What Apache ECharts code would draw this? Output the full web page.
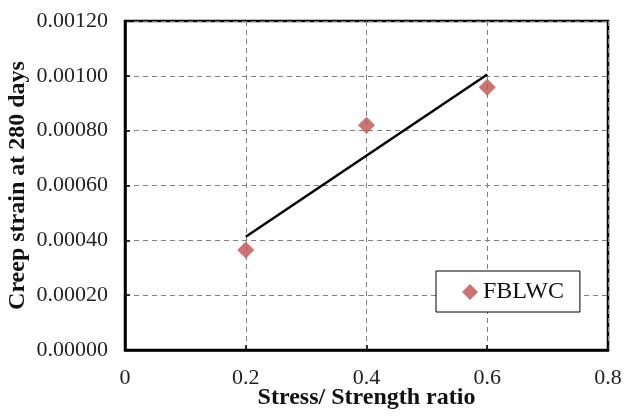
<!DOCTYPE html>
<html>
<head>
<meta charset="utf-8">
<script src="https://cdn.jsdelivr.net/npm/echarts@6/dist/echarts.min.js"></script>
<style>
  html, body { margin: 0; padding: 0; background: #fff; }
  #chart { width: 627px; height: 418px; }
</style>
</head>
<body>
<div id="chart"></div>
<script>
// stress/strength ratio and measured creep strain
const ratios = [0.2, 0.4, 0.6]
const creepStrain = [0.000365, 0.00082, 0.000958]
// linear trend line end points
const trendX = [0.2, 0.6]
const trendY = [0.000413, 0.001005]

const serif = '"Liberation Serif", "DejaVu Serif", serif'

const chart = echarts.init(document.getElementById('chart'))

const gridLine = { show: true, lineStyle: { color: '#808080', type: [5, 4], width: 1 } }

chart.setOption({
  animation: false,
  grid: {
    left: 125, right: 19, top: 21, bottom: 68,
    outerBoundsMode: 'none',
    containLabel: false,
    show: true, borderColor: '#000', borderWidth: 2.5, backgroundColor: 'transparent'
  },
  legend: {
    data: ['FBLWC'],
    left: 436, top: 271,
    padding: [9, 16, 8, 26],
    backgroundColor: '#fff',
    borderColor: '#000',
    borderWidth: 1,
    borderRadius: 0,
    itemWidth: 16, itemHeight: 16,
    textStyle: { fontFamily: serif, fontSize: 24, color: '#111' }
  },
  xAxis: {
    type: 'value', min: 0, max: 0.8, interval: 0.2,
    name: 'Stress/ Strength ratio',
    nameLocation: 'middle', nameGap: 36,
    nameMoveOverlap: false,
    nameTextStyle: { fontFamily: serif, fontSize: 24, fontWeight: 'bold', color: '#111' },
    axisLine: { show: true, lineStyle: { color: '#000', width: 2.5 } },
    axisTick: { show: true, inside: true, length: 5, lineStyle: { color: '#000', width: 1.5 } },
    axisLabel: {
      margin: 17, fontFamily: serif, fontSize: 22, color: '#222',
      formatter: v => String(Math.round(v * 10) / 10)
    },
    splitLine: gridLine
  },
  yAxis: {
    type: 'value', min: 0, max: 0.0012, interval: 0.0002,
    name: 'Creep strain at 280 days',
    nameLocation: 'middle', nameGap: 95,
    nameMoveOverlap: false,
    nameTextStyle: { fontFamily: serif, fontSize: 24, fontWeight: 'bold', color: '#111' },
    axisLine: { show: true, lineStyle: { color: '#000', width: 2.5 } },
    axisTick: { show: true, inside: true, length: 5, lineStyle: { color: '#000', width: 1.5 } },
    axisLabel: {
      margin: 17, fontFamily: serif, fontSize: 22, color: '#222',
      formatter: v => v.toFixed(5)
    },
    splitLine: gridLine
  },
  series: [
    {
      name: 'trend',
      type: 'line',
      data: trendX.map((x, i) => [x, trendY[i]]),
      symbol: 'none',
      lineStyle: { color: '#000', width: 2.5 },
      z: 3
    },
    {
      name: 'FBLWC',
      type: 'scatter',
      data: ratios.map((x, i) => [x, creepStrain[i]]),
      symbol: 'diamond',
      symbolSize: 17,
      itemStyle: { color: '#C0504D' },
      z: 4
    }
  ]
})
</script>
</body>
</html>
